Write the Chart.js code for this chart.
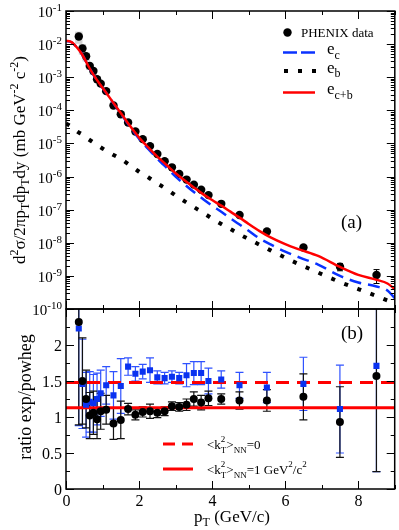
<!DOCTYPE html>
<html>
<head>
<meta charset="utf-8">
<title>PHENIX heavy-flavour electrons vs POWHEG</title>
<script src="https://cdn.jsdelivr.net/npm/chart.js@4.4.1/dist/chart.umd.min.js"></script>
<style>
    body { margin: 0; background: #fff; }
    #wrap { position: relative; width: 399px; height: 530px; }
    #wrap canvas { position: absolute; left: 0; top: 0; }
</style>
</head>
<body>
<div id="wrap">
    <canvas id="ratioChart" width="399" height="530"></canvas>
    <canvas id="spectrumChart" width="399" height="530"></canvas>
</div>
<script>
// ---------------- data ----------------
var phenix_pt = [0.35, 0.45, 0.55, 0.65, 0.75, 0.85, 0.95, 1.1, 1.3, 1.5, 1.7, 1.9, 2.1, 2.3,
    2.5, 2.7, 2.9, 3.1, 3.3, 3.5, 3.7, 3.9, 4.25, 4.75, 5.5, 6.5, 7.5, 8.5];
var phenix_yield = [1.7e-2, 7.4e-3, 4.3e-3, 2.2e-3, 1.55e-3, 8.7e-4, 6.4e-4, 3.8e-4, 1.4e-4, 7.6e-5,
    4.3e-5, 2.3e-5, 1.35e-5, 8.3e-6, 4.8e-6, 2.9e-6, 1.9e-6, 1.2e-6, 8.1e-7, 5.7e-7, 4.0e-7,
    2.75e-7, 1.5e-7, 6.9e-8, 2.2e-8, 7.2e-9, 1.9e-9, 1.07e-9];
// relative errors
var phenix_stat = [0.05, 0.04, 0.03, 0.03, 0.03, 0.03, 0.03, 0.03, 0.03, 0.03, 0.03, 0.03, 0.03, 0.03,
    0.03, 0.03, 0.03, 0.03, 0.04, 0.04, 0.04, 0.05, 0.05, 0.06, 0.08, 0.1, 0.25, 0.45];
var phenix_sys = [0.4, 0.35, 0.3, 0.25, 0.25, 0.2, 0.2, 0.15, 0.15, 0.15, 0.12, 0.12, 0.12, 0.12,
    0.12, 0.12, 0.12, 0.12, 0.12, 0.12, 0.12, 0.12, 0.12, 0.12, 0.12, 0.12, 0.12, 0.12];

var curve_pt = [0, 0.15, 0.3, 0.45, 0.6, 0.75, 0.9, 1.1, 1.3, 1.5, 1.75, 2.0, 2.25, 2.5, 2.75, 3.0,
    3.25, 3.5, 3.75, 4.0, 4.25, 4.5, 4.75, 5.0, 5.3, 5.6, 6.0, 6.4, 6.9, 7.5, 8.0, 8.5, 8.8, 9.0];
var curve_cb = [1.26e-2, 1.15e-2, 7.9e-3, 4.7e-3, 2.3e-3, 1.2e-3, 6.8e-4, 3.4e-4, 1.66e-4, 8.3e-5,
    3.4e-5, 1.5e-5, 7.6e-6, 4.0e-6, 2.24e-6, 1.26e-6, 7.6e-7, 4.7e-7, 2.95e-7, 1.95e-7, 1.32e-7,
    8.7e-8, 5.75e-8, 3.7e-8, 2.24e-8, 1.45e-8, 9.1e-9, 6.2e-9, 4.0e-9, 1.86e-9, 1.07e-9, 7.6e-10,
    5.9e-10, 4.0e-10];
var curve_c = [1.25e-2, 1.14e-2, 7.85e-3, 4.68e-3, 2.28e-3, 1.19e-3, 6.7e-4, 3.35e-4, 1.62e-4, 8.0e-5,
    3.2e-5, 1.38e-5, 6.8e-6, 3.47e-6, 1.86e-6, 1.0e-6, 5.75e-7, 3.4e-7, 2.1e-7, 1.32e-7, 8.7e-8,
    5.5e-8, 3.55e-8, 2.3e-8, 1.35e-8, 8.9e-9, 5.4e-9, 3.55e-9, 2.2e-9, 1.0e-9, 6.3e-10, 4.8e-10,
    3.6e-10, 2.1e-10];
var curve_b = [4.0e-5, 3.2e-5, 2.3e-5, 1.86e-5, 1.38e-5, 1.07e-5, 8.3e-6, 6.0e-6, 4.5e-6, 3.4e-6,
    2.2e-6, 1.4e-6, 9.5e-7, 6.2e-7, 4.2e-7, 2.7e-7, 1.78e-7, 1.2e-7, 8.1e-8, 5.4e-8, 3.7e-8, 2.6e-8,
    1.8e-8, 1.29e-8, 8.7e-9, 5.9e-9, 3.55e-9, 2.2e-9, 1.26e-9, 6.5e-10, 4.0e-10, 2.45e-10, 1.8e-10,
    1.5e-10];

// ratio exp/powheg
var ratio_blue = [2.23, 1.46, 1.17, 1.21, 1.19, 1.25, 1.33, 1.44, 1.30, 1.43, 1.70, 1.60, 1.63, 1.65,
    1.55, 1.54, 1.56, 1.54, 1.58, 1.61, 1.61, 1.50, 1.52, 1.44, 1.41, 1.46, 1.11, 1.71];
var ratio_blue_err = [1.35, 0.62, 0.45, 0.42, 0.4, 0.36, 0.32, 0.26, 0.33, 0.38, 0.12, 0.10, 0.10, 0.17,
    0.09, 0.08, 0.08, 0.08, 0.16, 0.16, 0.16, 0.18, 0.12, 0.18, 0.21, 0.37, 0.61, 1.47];
var ratio_black = [2.32, 1.50, 1.25, 1.02, 1.06, 0.97, 1.08, 1.10, 0.91, 0.96, 1.11, 1.03, 1.07, 1.08,
    1.06, 1.08, 1.15, 1.14, 1.17, 1.25, 1.20, 1.26, 1.25, 1.23, 1.23, 1.28, 0.93, 1.57];
var ratio_black_err = [1.43, 0.6, 0.4, 0.32, 0.3, 0.27, 0.25, 0.2, 0.22, 0.26, 0.08, 0.07, 0.07, 0.1,
    0.07, 0.06, 0.06, 0.06, 0.08, 0.1, 0.1, 0.1, 0.07, 0.12, 0.15, 0.32, 0.49, 1.33];
var level_pt = [0, 9];
var level_kt0 = [1.48, 1.48];
var level_kt1 = [1.13, 1.13];

// ---------------- helpers ----------------
var SERIF = '"Liberation Serif", "DejaVu Serif", serif';
function font(size) {
    return size + "px " + SERIF;
}
function part(t, size, dy, stack) {
    return { t: t, size: size, dy: dy || 0, stack: !!stack };
}
function richText(ctx, parts, x, y, align) {
    var total = 0;
    parts.forEach(function (p) {
        ctx.font = font(p.size);
        if (!p.stack) total += ctx.measureText(p.t).width;
    });
    var cx = align === "center" ? x - total / 2 : align === "right" ? x - total : x;
    ctx.textAlign = "left";
    ctx.textBaseline = "alphabetic";
    parts.forEach(function (p) {
        ctx.font = font(p.size);
        ctx.fillText(p.t, cx, y + p.dy);
        if (!p.stack) cx += ctx.measureText(p.t).width;
    });
}
function seg(ctx, x1, y1, x2, y2) {
    ctx.beginPath();
    ctx.moveTo(x1, y1);
    ctx.lineTo(x2, y2);
    ctx.stroke();
}
function pts(xs, ys) {
    return xs.map(function (x, i) {
        return { x: x, y: ys[i] };
    });
}

// frame with inward ticks on all four sides
var framePlugin = {
    id: "frame",
    afterDraw: function (chart, args, opts) {
        var ctx = chart.ctx, a = chart.chartArea;
        var xs = chart.scales.x, ys = chart.scales.y;
        ctx.save();
        ctx.strokeStyle = "#000";
        ctx.fillStyle = "#000";
        ctx.lineWidth = 1;
        var n = Math.round((xs.max - xs.min) / opts.xMinor);
        for (var i = 0; i <= n; i++) {
            var v = xs.min + i * opts.xMinor;
            var major = i % opts.xEvery === 0;
            var len = major ? 8 : 4;
            var px = Math.round(xs.getPixelForValue(v)) + 0.5;
            seg(ctx, px, a.bottom, px, a.bottom - len);
            seg(ctx, px, a.top, px, a.top + len);
            if (major && opts.xLabels && v < xs.max) {
                richText(ctx, [part(String(v), 16)], px, a.bottom + 17, "center");
            }
        }
        opts.yTicks(ys).forEach(function (t) {
            var py = Math.round(ys.getPixelForValue(t.v)) + 0.5;
            var len = t.major ? 8 : 4;
            seg(ctx, a.left, py, a.left + len, py);
            seg(ctx, a.right, py, a.right - len, py);
            if (t.label) richText(ctx, t.label, a.left - 4, py + 5, "right");
        });
        ctx.lineWidth = 1.5;
        ctx.strokeRect(a.left, a.top, a.right - a.left, a.bottom - a.top);
        ctx.restore();
    }
};

// error bars and systematic boxes
var errorPlugin = {
    id: "errors",
    beforeDatasetsDraw: function (chart, args, opts) {
        var ctx = chart.ctx, a = chart.chartArea;
        var xs = chart.scales.x, ys = chart.scales.y;
        ctx.save();
        ctx.beginPath();
        ctx.rect(a.left, a.top, a.right - a.left, a.bottom - a.top);
        ctx.clip();
        (opts.boxes || []).forEach(function (b) {
            ctx.fillStyle = b.color;
            b.x.forEach(function (x, i) {
                var x0 = xs.getPixelForValue(x - b.half), x1 = xs.getPixelForValue(x + b.half);
                var y0 = ys.getPixelForValue(b.hi[i]), y1 = ys.getPixelForValue(b.lo[i]);
                ctx.fillRect(x0, y0, x1 - x0, y1 - y0);
            });
        });
        (opts.bars || []).forEach(function (s) {
            ctx.strokeStyle = s.color;
            ctx.lineWidth = s.width;
            s.x.forEach(function (x, i) {
                var px = xs.getPixelForValue(x);
                var yh = ys.getPixelForValue(s.hi[i]), yl = ys.getPixelForValue(s.lo[i]);
                seg(ctx, px, yh, px, yl);
                seg(ctx, px - s.cap, yh, px + s.cap, yh);
                seg(ctx, px - s.cap, yl, px + s.cap, yl);
            });
        });
        ctx.restore();
    }
};

// legend, panel tag and axis titles
var textPlugin = {
    id: "texts",
    afterDraw: function (chart, args, opts) {
        var ctx = chart.ctx;
        ctx.save();
        ctx.fillStyle = "#000";
        opts.draw(ctx);
        ctx.restore();
    }
};

function logTicks(ys) {
    var out = [];
    var e0 = Math.round(Math.log10(ys.min)), e1 = Math.round(Math.log10(ys.max));
    for (var e = e0; e <= e1; e++) {
        for (var k = 1; k <= 9; k++) {
            var v = k * Math.pow(10, e);
            if (v > ys.max * 1.0001) break;
            out.push({
                v: v,
                major: k === 1,
                label: k === 1 ? [part("10", 15), part(String(e), 11, -6)] : null
            });
        }
    }
    return out;
}
function linTicks(ys) {
    var out = [];
    for (var i = 0; i <= Math.round((ys.max - ys.min) / 0.25); i++) {
        var v = ys.min + i * 0.25;
        var major = i % 2 === 0;
        out.push({ v: v, major: major, label: major && v < ys.max ? [part(String(v), 16)] : null });
    }
    return out;
}

var commonOptions = {
    responsive: false,
    animation: false,
    events: []
};

// ---------------- top panel: spectrum ----------------
new Chart(document.getElementById("spectrumChart"), {
    type: "scatter",
    data: {
        datasets: [
            {
                label: "e_c+b",
                data: pts(curve_pt, curve_cb),
                showLine: true,
                cubicInterpolationMode: "monotone",
                borderColor: "#ff0000",
                borderWidth: 2.5,
                pointRadius: 0
            },
            {
                label: "e_c",
                data: pts(curve_pt, curve_c),
                showLine: true,
                cubicInterpolationMode: "monotone",
                borderColor: "#0a32ff",
                borderWidth: 2.5,
                borderDash: [12, 7],
                pointRadius: 0
            },
            {
                label: "e_b",
                data: pts(curve_pt, curve_b),
                showLine: true,
                cubicInterpolationMode: "monotone",
                borderColor: "#000",
                borderWidth: 4,
                borderDash: [4, 10],
                borderCapStyle: "butt",
                pointRadius: 0
            },
            {
                label: "PHENIX data",
                data: pts(phenix_pt, phenix_yield),
                pointStyle: "circle",
                pointRadius: 4.2,
                backgroundColor: "#000",
                borderWidth: 0
            }
        ]
    },
    options: Object.assign({}, commonOptions, {
        layout: { padding: { left: 66, right: 4, top: 11, bottom: 221 } },
        scales: {
            x: { type: "linear", min: 0, max: 9, display: false },
            y: { type: "logarithmic", min: 1e-10, max: 1e-1, display: false }
        },
        plugins: {
            legend: { display: false },
            tooltip: { enabled: false },
            frame: { xMinor: 1, xEvery: 2, xLabels: false, yTicks: logTicks },
            errors: {
                boxes: [{
                    color: "#d2d2d2",
                    half: 0.1,
                    x: phenix_pt,
                    lo: phenix_yield.map(function (v, i) { return v * (1 - phenix_sys[i]); }),
                    hi: phenix_yield.map(function (v, i) { return v * (1 + phenix_sys[i]); })
                }],
                bars: [{
                    color: "#000",
                    width: 1,
                    cap: 3,
                    x: phenix_pt,
                    lo: phenix_yield.map(function (v, i) { return v * (1 - phenix_stat[i]); }),
                    hi: phenix_yield.map(function (v, i) { return v * (1 + phenix_stat[i]); })
                }]
            },
            texts: {
                draw: function (ctx) {
                    // legend
                    ctx.beginPath();
                    ctx.arc(287.5, 32.5, 4.2, 0, Math.PI * 2);
                    ctx.fill();
                    richText(ctx, [part("PHENIX data", 13)], 301, 37, "left");

                    ctx.lineWidth = 2.5;
                    ctx.strokeStyle = "#0a32ff";
                    seg(ctx, 283, 52.5, 297, 52.5);
                    seg(ctx, 301, 52.5, 315, 52.5);
                    richText(ctx, [part("e", 17), part("c", 12, 5)], 327, 54, "left");

                    [286, 300, 314].forEach(function (x) {
                        ctx.fillRect(x - 2, 69, 4, 4);
                    });
                    richText(ctx, [part("e", 17), part("b", 12, 4)], 327, 73, "left");

                    ctx.strokeStyle = "#ff0000";
                    seg(ctx, 283, 92.5, 315, 92.5);
                    richText(ctx, [part("e", 17), part("c+b", 12, 5)], 327, 94, "left");

                    richText(ctx, [part("(a)", 19)], 341, 228, "left");

                    // y axis title
                    ctx.save();
                    ctx.translate(25, 160);
                    ctx.rotate(-Math.PI / 2);
                    richText(ctx, [
                        part("d", 17), part("2", 12, -7), part("σ/2πp", 17), part("T", 12, 4),
                        part("dp", 17), part("T", 12, 4), part("dy (mb GeV", 17), part("-2", 12, -7),
                        part(" c", 17), part("-2", 12, -7), part(")", 17)
                    ], 0, 0, "center");
                    ctx.restore();
                }
            }
        }
    }),
    plugins: [errorPlugin, framePlugin, textPlugin]
});

// ---------------- bottom panel: ratio ----------------
new Chart(document.getElementById("ratioChart"), {
    type: "scatter",
    data: {
        datasets: [
            {
                label: "black",
                data: pts(phenix_pt, ratio_black),
                pointStyle: "circle",
                pointRadius: 4,
                backgroundColor: "#000",
                borderWidth: 0
            },
            {
                label: "blue",
                data: pts(phenix_pt, ratio_blue),
                pointStyle: "rect",
                pointRadius: 4.3,
                backgroundColor: "#0a32f0",
                borderWidth: 0
            },
            {
                label: "<kT2>NN=0",
                data: pts(level_pt, level_kt0),
                showLine: true,
                borderColor: "#ff0000",
                borderWidth: 3,
                borderDash: [13, 8],
                borderCapStyle: "butt",
                pointRadius: 0
            },
            {
                label: "<kT2>NN=1",
                data: pts(level_pt, level_kt1),
                showLine: true,
                borderColor: "#ff0000",
                borderWidth: 3,
                pointRadius: 0
            }
        ]
    },
    options: Object.assign({}, commonOptions, {
        layout: { padding: { left: 66, right: 4, top: 309, bottom: 41 } },
        scales: {
            x: { type: "linear", min: 0, max: 9, display: false },
            y: { type: "linear", min: 0, max: 2.5, display: false }
        },
        plugins: {
            legend: { display: false },
            tooltip: { enabled: false },
            frame: { xMinor: 1, xEvery: 2, xLabels: true, yTicks: linTicks },
            errors: {
                bars: [
                    {
                        color: "#2f52ff",
                        width: 1.2,
                        cap: 4,
                        x: phenix_pt,
                        lo: ratio_blue.map(function (v, i) { return v - ratio_blue_err[i]; }),
                        hi: ratio_blue.map(function (v, i) { return v + ratio_blue_err[i]; })
                    },
                    {
                        color: "#111",
                        width: 1.2,
                        cap: 4,
                        x: phenix_pt,
                        lo: ratio_black.map(function (v, i) { return v - ratio_black_err[i]; }),
                        hi: ratio_black.map(function (v, i) { return v + ratio_black_err[i]; })
                    }
                ]
            },
            texts: {
                draw: function (ctx) {
                    ctx.lineWidth = 3;
                    ctx.strokeStyle = "#ff0000";
                    seg(ctx, 163, 444, 175, 444);
                    seg(ctx, 182, 444, 193, 444);
                    seg(ctx, 163, 469, 193, 469);
                    richText(ctx, [
                        part("<k", 13), part("2", 9, -7, true), part("T", 9, 4), part(">", 13),
                        part("NN", 9, 4), part("=0", 13)
                    ], 207, 449, "left");
                    richText(ctx, [
                        part("<k", 13), part("2", 9, -7, true), part("T", 9, 4), part(">", 13),
                        part("NN", 9, 4), part("=1 GeV", 13), part("2", 9, -7), part("/c", 13),
                        part("2", 9, -7)
                    ], 207, 474, "left");

                    richText(ctx, [part("(b)", 19)], 341, 339, "left");

                    richText(ctx, [part("p", 17), part("T", 12, 4), part(" (GeV/c)", 17)], 232, 522, "center");

                    ctx.save();
                    ctx.translate(31, 397);
                    ctx.rotate(-Math.PI / 2);
                    richText(ctx, [part("ratio exp/powheg", 18)], 0, 0, "center");
                    ctx.restore();
                }
            }
        }
    }),
    plugins: [errorPlugin, framePlugin, textPlugin]
});
</script>
</body>
</html>
